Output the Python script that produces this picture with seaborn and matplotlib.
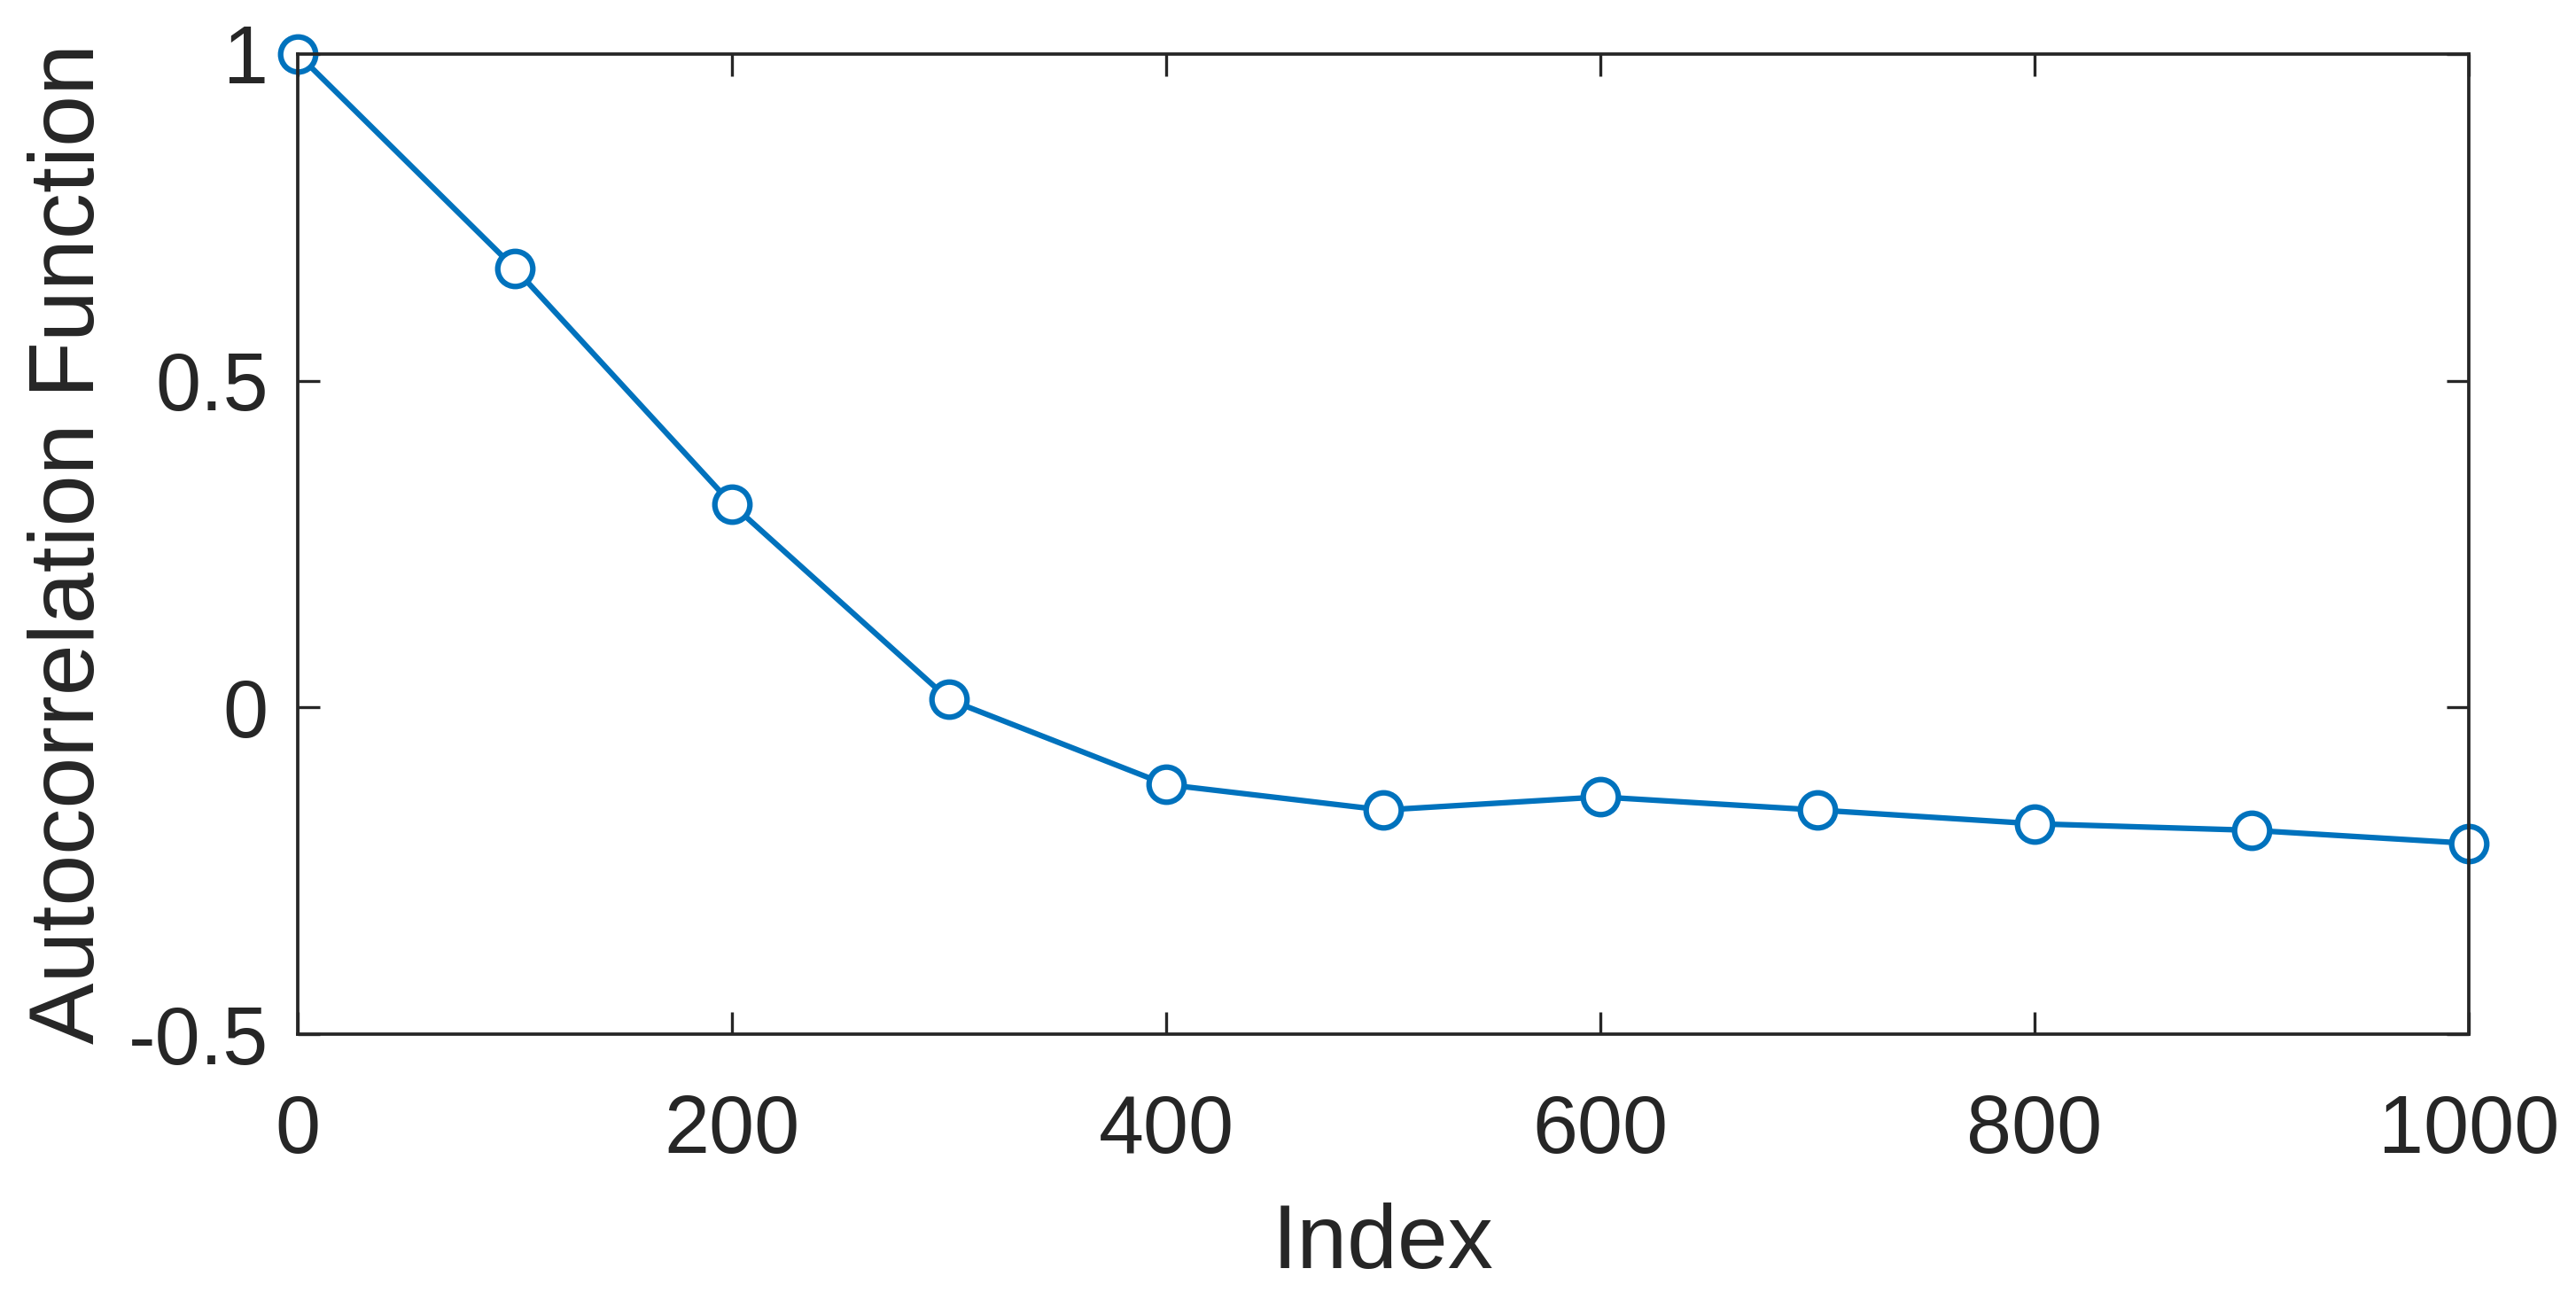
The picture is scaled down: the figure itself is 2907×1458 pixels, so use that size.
import pandas as pd
import matplotlib
matplotlib.use("Agg")
import matplotlib.pyplot as plt
import seaborn as sns

# Values
index = [0, 100, 200, 300, 400, 500, 600, 700, 800, 900, 1000]
acf = [1.0, 0.672, 0.311, 0.012, -0.118, -0.157, -0.137, -0.157, -0.178, -0.188, -0.208]
xticks = [0, 200, 400, 600, 800, 1000]
yticks = [-0.5, 0, 0.5, 1]
ytick_labels = ["-0.5", "0", "0.5", "1"]

sns.set_style("white")
plt.rcParams['font.family'] = ['Liberation Sans', 'DejaVu Sans']

df = pd.DataFrame({"Index": index, "ACF": acf})

fig = plt.figure(figsize=(2907 / 300, 1458 / 300), dpi=300)
ax = fig.add_axes([336 / 2907, 1 - 1167 / 1458, (2786 - 336) / 2907, (1167 - 61) / 1458])

line_color = "#0072BD"
sns.lineplot(data=df, x="Index", y="ACF", ax=ax, color=line_color, linewidth=1.5,
             marker="o", markersize=9.5, markerfacecolor="white",
             markeredgecolor=line_color, markeredgewidth=1.5, clip_on=False)

ax.set_xlim(0, 1000)
ax.set_ylim(-0.5, 1)
ax.set_xticks(xticks)
ax.set_xticklabels([str(t) for t in xticks])
ax.set_yticks(yticks)
ax.set_yticklabels(ytick_labels)

dark = "#262626"
for side in ["left", "right", "top", "bottom"]:
    ax.spines[side].set_visible(True)
    ax.spines[side].set_color(dark)
    ax.spines[side].set_linewidth(0.9)

ax.tick_params(direction="in", length=6, width=0.8, color=dark, labelcolor=dark,
               labelsize=22, top=True, right=True, bottom=True, left=True)
ax.tick_params(axis="x", pad=16)
ax.tick_params(axis="y", pad=8)

ax.set_xlabel("Index", fontsize=24.5, color=dark, labelpad=9)
ax.set_ylabel("Autocorrelation Function", fontsize=25, color=dark, labelpad=4)

fig.savefig("out.png", dpi=300)
